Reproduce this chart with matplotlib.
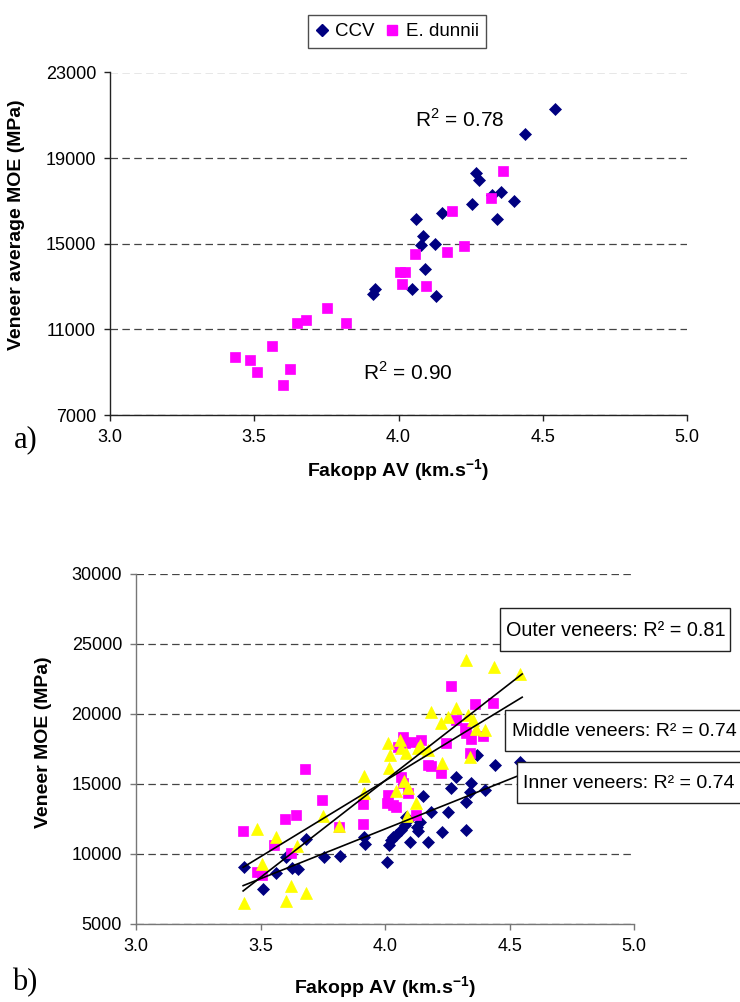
import numpy as np
import matplotlib
matplotlib.use("Agg")
import matplotlib.pyplot as plt
from matplotlib.lines import Line2D
from matplotlib.patches import Rectangle

plt.rcParams['font.family'] = ['Liberation Sans', 'DejaVu Sans']
plt.rcParams['mathtext.fontset'] = 'custom'
plt.rcParams['mathtext.rm'] = 'Liberation Sans'
plt.rcParams['mathtext.bf'] = 'Liberation Sans:bold'

# ---------------- data: panel a ----------------
ccv_x = [4.542, 4.438, 4.269, 4.279, 4.354, 4.323, 4.400, 4.255, 4.151, 4.061,
         4.340, 4.084, 4.078, 4.127, 4.092, 4.048, 4.129, 3.918, 3.913]
ccv_y = [21300, 20130, 18300, 17980, 17420, 17290, 17010, 16860, 16440, 16170,
         16170, 15380, 14960, 14980, 13810, 12890, 12560, 12890, 12650]
dun_x = [4.362, 4.320, 4.185, 4.228, 4.057, 4.167, 4.005, 4.023, 4.013, 4.094,
         3.751, 3.818, 3.679, 3.649, 3.562, 3.434, 3.485, 3.508, 3.624, 3.600]
dun_y = [18420, 17140, 16520, 14910, 14510, 14600, 13670, 13670, 13120, 13030,
         12010, 11280, 11460, 11280, 10230, 9730, 9570, 8990, 9150, 8410]

# ---------------- data: panel b ----------------
inner_x = [3.433, 3.508, 3.560, 3.604, 3.628, 3.651, 3.684, 3.754, 3.818, 3.914,
           3.918, 4.008, 4.016, 4.025, 4.032, 4.045, 4.065, 4.079, 4.085, 4.092,
           4.099, 4.128, 4.132, 4.139, 4.150, 4.172, 4.186, 4.230, 4.252, 4.266,
           4.283, 4.326, 4.326, 4.339, 4.345, 4.368, 4.401, 4.439, 4.540]
inner_y = [9050, 7480, 8660, 9760, 9020, 8900, 11070, 9810, 9860, 11240,
           10710, 9450, 10640, 11000, 11190, 11360, 11710, 12070, 12660, 12430,
           10880, 11900, 11660, 12310, 14140, 10880, 12980, 11550, 12980, 14720,
           15480, 11710, 13740, 14450, 15090, 17070, 14550, 16360, 16590]
middle_x = [3.430, 3.484, 3.504, 3.555, 3.600, 3.621, 3.644, 3.680, 3.747, 3.814,
            3.910, 3.910, 4.008, 4.012, 4.032, 4.042, 4.065, 4.072, 4.052, 4.079,
            4.105, 4.072, 4.092, 4.125, 4.145, 4.172, 4.226, 4.246, 4.263, 4.286,
            4.319, 4.326, 4.339, 4.346, 4.359, 4.393, 4.433, 4.185]
middle_y = [11640, 8740, 8500, 10640, 12520, 10050, 12790, 16050, 13860, 11910,
            13550, 12140, 13620, 14210, 13500, 13380, 15520, 15100, 17660, 17900,
            18020, 18380, 14340, 12790, 18140, 16360, 15810, 17900, 22000, 19570,
            18980, 18620, 17250, 18190, 20690, 18430, 20810, 16300]
outer_x = [3.433, 3.484, 3.506, 3.560, 3.604, 3.624, 3.647, 3.684, 3.749, 3.814,
           3.914, 3.914, 4.010, 4.016, 4.045, 4.065, 4.075, 4.092, 4.088, 4.125,
           4.326, 4.437, 4.540, 4.186, 4.283, 4.253, 4.333, 4.353, 4.399, 4.366,
           4.226, 4.058, 4.085, 4.132, 4.172, 4.018, 4.228, 4.339, 4.139]
outer_y = [6520, 11760, 9290, 11240, 6640, 7710, 10570, 7190, 12710, 12000,
           15570, 14330, 17900, 16120, 14520, 17550, 15250, 14690, 12710, 13620,
           23860, 23340, 22860, 20160, 20410, 19810, 19930, 19570, 18860, 18910,
           19330, 18140, 17190, 17550, 17430, 17070, 16480, 16900, 17790]

# trend lines (value at x = 3.43 and x = 4.55)
trend_x = [3.43, 4.55]
trend_outer = [7360, 22860]
trend_middle = [9050, 21200]
trend_inner = [7740, 15700]

NAVY = '#000080'
MAG = '#FF00FF'
YEL = '#FFFF00'

W, H = 740, 1002
fig = plt.figure(figsize=(W / 100, H / 100), dpi=100)


def px_rect(l, t, r, b):
    return [l / W, 1 - b / H, (r - l) / W, (b - t) / H]


def style_axes(ax, axcol):
    for s in ['top', 'right']:
        ax.spines[s].set_visible(False)
    for s in ['left', 'bottom']:
        ax.spines[s].set_color(axcol)
        ax.spines[s].set_linewidth(1.0)
    ax.tick_params(axis='both', direction='out', length=4, width=1.0,
                   color=axcol, labelsize=13, pad=6)
    ax.yaxis.grid(True, linestyle=(0, (6, 3.5)), color='#444444', linewidth=0.9)
    ax.set_axisbelow(True)


LABEL_FONT = dict(fontsize=14, fontweight='bold')

# ---------------- panel a ----------------
ax1 = fig.add_axes(px_rect(110, 72.5, 687, 415))
style_axes(ax1, '#222222')
ax1.plot(ccv_x, ccv_y, ls='none', marker='D', ms=6.2, mfc=NAVY, mec=NAVY, mew=0.5, zorder=3)
ax1.plot(dun_x, dun_y, ls='none', marker='s', ms=6.8, mfc=MAG, mec=MAG, mew=0.5, zorder=3)
ax1.set_xlim(3.0, 5.0)
ax1.set_ylim(7000, 23000)
ax1.set_xticks(np.arange(3.0, 5.01, 0.5))
ax1.set_xticklabels([f'{v:.1f}' for v in np.arange(3.0, 5.01, 0.5)])
ax1.set_yticks(np.arange(7000, 23001, 4000))
ax1.set_yticklabels([f'{v:d}' for v in range(7000, 23001, 4000)])
ax1.set_xlabel(r'Fakopp AV (km.s$^{\mathbf{-1}}$)', labelpad=8, **LABEL_FONT)
ax1.set_ylabel('Veneer average MOE (MPa)', **LABEL_FONT)
ax1.yaxis.set_label_coords(-0.147, 0.555)
ax1.text((415 - 110) / 577, (415 - 120) / 342.5, r'R$^2$ = 0.78', transform=ax1.transAxes,
         fontsize=15, va='center', ha='left')
ax1.text((363 - 110) / 577, (415 - 373) / 342.5, r'R$^2$ = 0.90', transform=ax1.transAxes,
         fontsize=15, va='center', ha='left')

handles = [Line2D([], [], ls='none', marker='D', ms=6.2, mfc=NAVY, mec=NAVY, label='CCV'),
           Line2D([], [], ls='none', marker='s', ms=6.8, mfc=MAG, mec=MAG, label='E. dunnii')]
leg = fig.legend(handles=handles, loc='center', bbox_to_anchor=(397 / W, 1 - 31.5 / H),
                 ncol=2, fontsize=13.5, frameon=True, fancybox=False, edgecolor='#222222',
                 handlelength=0.7, handletextpad=0.35, columnspacing=0.6,
                 borderpad=0.4, borderaxespad=0)
leg.get_frame().set_linewidth(1.0)

fig.text(14 / W, 1 - 440 / H, 'a)', fontsize=22, family='Liberation Serif', va='center', ha='left')

# ---------------- panel b ----------------
ax2 = fig.add_axes(px_rect(136, 574, 634.3, 924))
style_axes(ax2, '#777777')
ax2.plot(inner_x, inner_y, ls='none', marker='D', ms=6.0, mfc=NAVY, mec=NAVY, mew=0.5, zorder=3)
ax2.plot(middle_x, middle_y, ls='none', marker='s', ms=7.2, mfc=MAG, mec=MAG, mew=0.5, zorder=3)
ax2.plot(outer_x, outer_y, ls='none', marker='^', ms=8.5, mfc=YEL, mec=YEL, mew=0.5, zorder=3)
for ty in (trend_outer, trend_middle, trend_inner):
    ax2.plot(trend_x, ty, color='black', lw=1.2, zorder=4)
ax2.set_xlim(3.0, 5.0)
ax2.set_ylim(5000, 30000)
ax2.set_xticks(np.arange(3.0, 5.01, 0.5))
ax2.set_xticklabels([f'{v:.1f}' for v in np.arange(3.0, 5.01, 0.5)])
ax2.set_yticks(np.arange(5000, 30001, 5000))
ax2.set_yticklabels([f'{v:d}' for v in range(5000, 30001, 5000)])
ax2.set_xlabel(r'Fakopp AV (km.s$^{\mathbf{-1}}$)', labelpad=14, **LABEL_FONT)
ax2.set_ylabel('Veneer MOE (MPa)', **LABEL_FONT)
ax2.yaxis.set_label_coords(-0.168, 0.52)

# annotation boxes (pixel rectangles: left, top, right, bottom) with their texts
boxes = [((500, 608, 730, 651), 'Outer veneers: R² = 0.81', 506, 14.3),
         ((505, 710, 748, 751), 'Middle veneers: R² = 0.74', 512, 14.0),
         ((517, 762, 748, 803), 'Inner veneers: R² = 0.74', 523, 14.0)]
for (l, t, r, b), txt, tx, fs in boxes:
    fig.patches.append(Rectangle((l / W, 1 - b / H), (r - l) / W, (b - t) / H,
                                 transform=fig.transFigure, fc='white', ec='#222222',
                                 lw=1.0, zorder=9))
    fig.text(tx / W, 1 - ((t + b) / 2 + 1) / H, txt, fontsize=fs, va='center', ha='left',
             zorder=10)

fig.text(12 / W, 1 - 983 / H, 'b)', fontsize=22, family='Liberation Serif', va='center', ha='left')

fig.savefig('out.png', dpi=100)
